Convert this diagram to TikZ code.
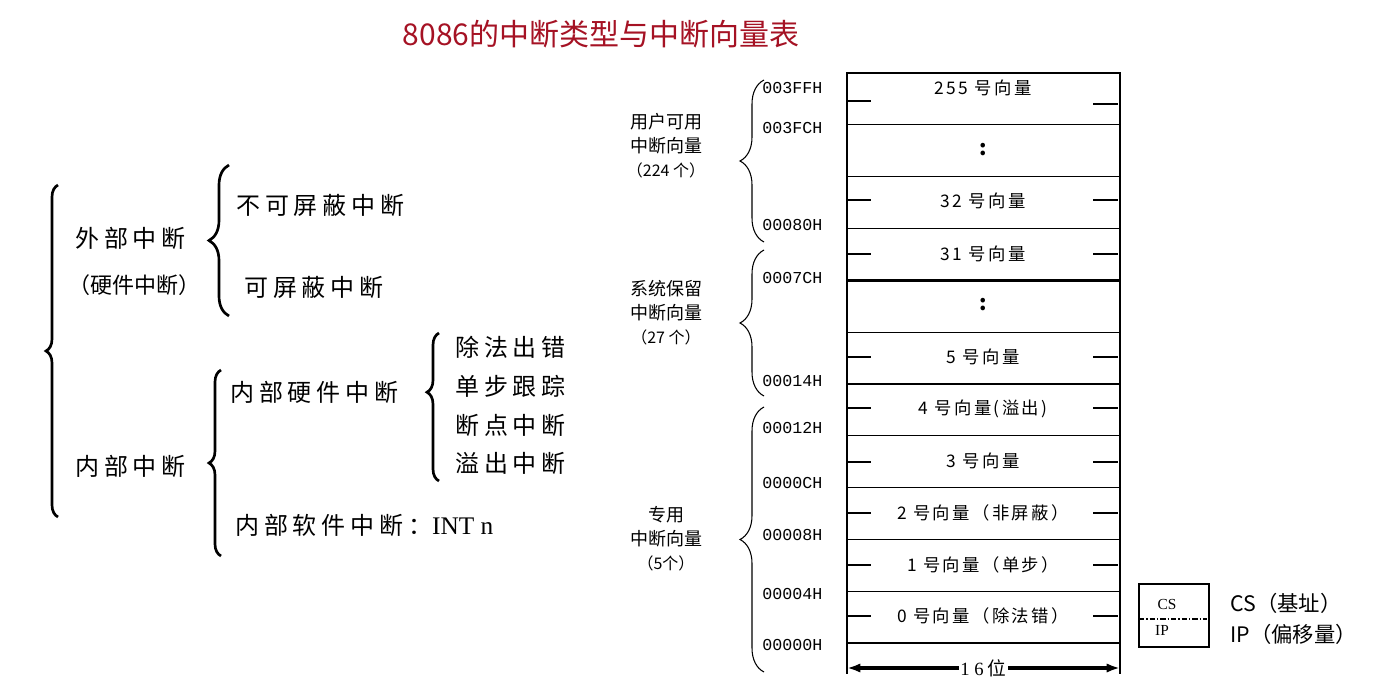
\documentclass[tikz,border=0pt]{standalone}
\usepackage{fontspec}
\setmainfont{Noto Sans CJK SC}
\newfontfamily\cjkbig[LetterSpace=20]{Noto Sans CJK SC}
\newfontfamily\cjkmid[LetterSpace=14]{Noto Sans CJK SC}
\newfontfamily\addrfont{Liberation Mono}
\newfontfamily\serf{Liberation Serif}
\usetikzlibrary{decorations.pathreplacing,arrows.meta}
\definecolor{titlered}{RGB}{165,18,36}
\begin{document}
\begin{tikzpicture}[x=0.75pt,y=-0.75pt,
  treetxt/.style={anchor=west, inner sep=0pt, font=\cjkbig\fontsize{18pt}{20pt}\selectfont},
  smalltree/.style={anchor=west, inner sep=0pt, font=\fontsize{16.5pt}{18pt}\selectfont},
  treebrace/.style={decorate, line width=2pt, decoration={brace, amplitude=#1}},
  grpbrace/.style={decorate, line width=0.8pt, decoration={brace, amplitude=#1}},
  tbl/.style={line width=0.9pt},
  tick/.style={line width=0.8pt},
  rowtxt/.style={inner sep=0pt, font=\cjkmid\fontsize{13pt}{15pt}\selectfont},
  dots/.style={inner sep=0pt, font=\fontsize{16pt}{18pt}\selectfont\bfseries},
  addr/.style={anchor=west, inner sep=0pt, font=\addrfont\fontsize{12.5pt}{14pt}\selectfont},
  grptxt/.style={inner sep=0pt, align=center, font=\fontsize{13.5pt}{18pt}\selectfont},
  legend/.style={anchor=west, inner sep=0pt, font=\fontsize{16pt}{18pt}\selectfont}
]
\useasboundingbox (0,0) rectangle (1374,690);

% title
\node[inner sep=0pt, text=titlered, font=\fontsize{22.5pt}{24pt}\selectfont] (title) at (601,34) {8086的中断类型与中断向量表};

% ---------- left tree ----------
\node[treetxt] (ext) at (75,238) {外部中断};
\node[smalltree] (exthw) at (68,285) {（硬件中断）};
\node[treetxt] (nmi) at (236,205) {不可屏蔽中断};
\node[treetxt] (mi) at (244,287) {可屏蔽中断};
\node[treetxt] (int) at (75,466) {内部中断};
\node[treetxt] (inthw) at (230,392) {内部硬件中断};
\node[treetxt] (div) at (455,347) {除法出错};
\node[treetxt] (step1) at (455,386) {单步跟踪};
\node[treetxt] (brk) at (455,425) {断点中断};
\node[treetxt] (ovf) at (455,463) {溢出中断};
\node[treetxt] (intsw) at (235,525) {内部软件中断：{\serf\fontsize{19pt}{20pt}\selectfont INT n}};

\coordinate (b0a) at (58,517); \coordinate (b0b) at (58,185);
\draw[treebrace=9pt] (b0a) -- (b0b);
\coordinate (b1a) at (229,316); \coordinate (b1b) at (229,165);
\draw[treebrace=15pt] (b1a) -- (b1b);
\coordinate (b2a) at (221,556); \coordinate (b2b) at (221,370);
\draw[treebrace=9pt] (b2a) -- (b2b);
\coordinate (b3a) at (439,481); \coordinate (b3b) at (439,333);
\draw[treebrace=9pt, decoration={aspect=0.6}] (b3a) -- (b3b);

% ---------- vector table ----------
\draw[tbl] (847,73) rectangle (1120,643);
\foreach \yy in {124.8,176.6,228.5,332.1,383.9,435.7,487.6,539.4,591.2}
  \draw[tbl] (847,\yy) -- (1120,\yy);
\draw[line width=1.8pt] (847,280.3) -- (1120,280.3);
\draw[tbl] (847,643) -- (847,674);
\draw[tbl] (1120,643) -- (1120,674);

% ticks
\draw[tick] (847,101) -- (871,101);
\draw[tick] (1093,104) -- (1118,104);
\foreach \yy in {200,254,357,408,462,513,565,616}{
  \draw[tick] (847,\yy) -- (871,\yy);
  \draw[tick] (1093,\yy) -- (1118,\yy);
}

% row texts
\node[rowtxt] (r0) at (983,88) {255 号向量};
\node[dots] (r1) at (983,150) {:};
\node[rowtxt] (r2) at (983,201) {32 号向量};
\node[rowtxt] (r3) at (983,254) {31 号向量};
\node[dots] (r4) at (983,305) {:};
\node[rowtxt] (r5) at (983,357) {5 号向量};
\node[rowtxt] (r6) at (983,409) {4 号向量(溢出)};
\node[rowtxt] (r7) at (983,461) {3 号向量};
\node[rowtxt] (r8) at (983,513) {2 号向量（非屏蔽）};
\node[rowtxt] (r9) at (983,565) {1 号向量（单步）};
\node[rowtxt] (r10) at (983,616) {0 号向量（除法错）};

% addresses
\node[addr] (a1) at (762,88) {003FFH};
\node[addr] (a2) at (762,128) {003FCH};
\node[addr] (a3) at (762,225) {00080H};
\node[addr] (a4) at (762,278) {0007CH};
\node[addr] (a5) at (762,381) {00014H};
\node[addr] (a6) at (762,428) {00012H};
\node[addr] (a7) at (762,483) {0000CH};
\node[addr] (a8) at (762,535) {00008H};
\node[addr] (a9) at (762,594) {00004H};
\node[addr] (a10) at (762,645) {00000H};

% group braces
\coordinate (g1a) at (764,242); \coordinate (g1b) at (764,80);
\draw[grpbrace=18pt] (g1a) -- (g1b);
\coordinate (g2a) at (764,396); \coordinate (g2b) at (764,250);
\draw[grpbrace=18pt] (g2a) -- (g2b);
\coordinate (g3a) at (764,672); \coordinate (g3b) at (764,407);
\draw[grpbrace=18pt] (g3a) -- (g3b);

\node[grptxt] (gl1) at (666,146) {用户可用\\中断向量\\{\fontsize{12pt}{14pt}\selectfont（224 个）}};
\node[grptxt] (gl2) at (666,313) {系统保留\\中断向量\\{\fontsize{12pt}{14pt}\selectfont（27 个）}};
\node[grptxt] (gl3) at (666,539) {专用\\中断向量\\{\fontsize{12pt}{14pt}\selectfont（5个）}};

% 16 bit arrow
\coordinate (wl) at (847,668);
\coordinate (wr) at (1120,668);
\draw[line width=2.6pt, {Latex[length=10pt,width=7pt]}-{Latex[length=10pt,width=7pt]}] (wl) -- (wr)
  node[midway, fill=white, inner sep=1pt, font=\fontsize{14pt}{15pt}\selectfont] (wtxt) {{\serf 1 6} 位};

% CS / IP box
\draw[line width=0.9pt] (1139,584) rectangle (1209,647);
\draw[line width=1.1pt, dash pattern=on 4pt off 1.5pt on 1pt off 1.5pt] (1139,619) -- (1207,619);
\node[inner sep=0pt, font=\serf\fontsize{11.5pt}{12pt}\selectfont] (cs) at (1167,604) {CS};
\node[inner sep=0pt, font=\serf\fontsize{11.5pt}{12pt}\selectfont] (ip) at (1162,630) {IP};
\node[legend] (csl) at (1230,603) {CS（基址）};
\node[legend] (ipl) at (1230,634) {IP（偏移量）};
\end{tikzpicture}
\end{document}
